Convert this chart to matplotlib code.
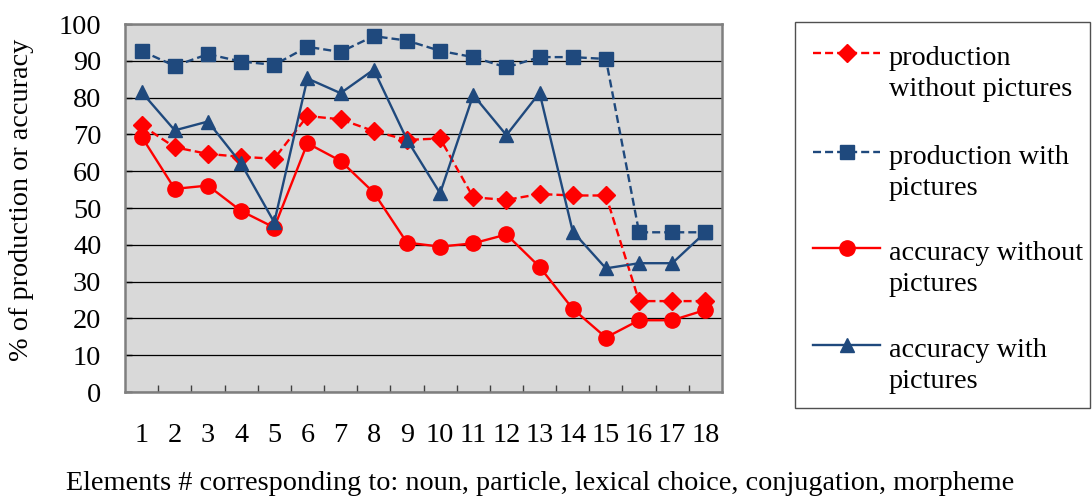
import matplotlib
matplotlib.use("Agg")
import matplotlib.pyplot as plt
from matplotlib.lines import Line2D
from matplotlib.patches import Rectangle

plt.rcParams['font.family'] = ['Liberation Serif', 'DejaVu Serif']

categories = list(range(1, 19))
prod_without = [72.5, 66.5, 64.7, 63.9, 63.4, 75.0, 74.1, 70.9, 68.5, 68.9,
                52.9, 52.2, 53.8, 53.4, 53.4, 24.7, 24.7, 24.7]
prod_with = [92.7, 88.6, 91.8, 89.8, 88.9, 93.8, 92.4, 96.7, 95.5, 92.7,
             91.0, 88.2, 91.0, 91.0, 90.5, 43.4, 43.4, 43.4]
acc_without = [69.4, 55.2, 56.1, 49.2, 44.7, 67.6, 62.8, 54.2, 40.6, 39.5,
               40.4, 42.8, 34.0, 22.6, 14.8, 19.5, 19.5, 22.3]
acc_with = [81.5, 71.1, 73.5, 62.1, 46.1, 85.2, 81.2, 87.6, 68.6, 54.0,
            80.7, 69.8, 81.3, 43.6, 33.6, 35.0, 35.0, 43.4]
labels = ["production\nwithout pictures", "production with\npictures",
          "accuracy without\npictures", "accuracy with\npictures"]
yticks = list(range(0, 101, 10))

RED = '#FF0000'
NAVY = '#1F497D'
FS = 20.3
styles = [
    dict(color=RED, ls=(0, (3.4, 1.7)), marker='D', ms=9.5),
    dict(color=NAVY, ls=(0, (3.4, 1.7)), marker='s', ms=9.5),
    dict(color=RED, ls='-', marker='o', ms=11),
    dict(color=NAVY, ls='-', marker='^', ms=10.5),
]
series = [prod_without, prod_with, acc_without, acc_with]

W, H = 1092, 499
fig = plt.figure(figsize=(W / 100, H / 100), dpi=100)
ax = fig.add_axes([125 / W, 1 - 392 / H, (722 - 125) / W, (392 - 24) / H])
ax.set_facecolor('#D9D9D9')

for vals, st in zip(series, styles):
    ax.plot(categories, vals, color=st['color'], ls=st['ls'], lw=1.7,
            marker=st['marker'], ms=st['ms'], mfc=st['color'], mec=st['color'],
            zorder=3)

ax.set_xlim(0.5, 18.5)
ax.set_ylim(0, 100)
ax.set_yticks(yticks)
ax.set_xticks(categories)
ax.set_xticks([c + 0.5 for c in categories[:-1]], minor=True)
ax.tick_params(axis='x', which='major', length=0, pad=22, labelsize=FS)
ax.tick_params(axis='x', which='minor', direction='in', length=5, width=1, color='#404040')
ax.tick_params(axis='y', direction='in', length=5, width=1, pad=17, labelsize=FS)
ax.yaxis.grid(True, color='black', lw=0.9)
ax.set_axisbelow(True)
for sp in ax.spines.values():
    sp.set_color('#7F7F7F')
    sp.set_linewidth(1.8)

fig.text(22 / W, 1 - 200 / H, '% of production or accuracy', rotation=90,
         ha='center', va='center', fontsize=FS)
fig.text(540 / W, 1 - 484 / H,
         'Elements # corresponding to: noun, particle, lexical choice, conjugation, morpheme',
         ha='center', va='center', fontsize=FS)

# legend
fig.add_artist(Rectangle((795 / W, 1 - 408 / H), (1090 - 795) / W, (408 - 22) / H,
                         transform=fig.transFigure, fill=False, ec='#505050', lw=1.0))
hy = [53, 152, 248, 345]
for y, lab, st in zip(hy, labels, styles):
    yf = 1 - y / H
    fig.add_artist(Line2D([813 / W, 880 / W], [yf, yf], transform=fig.transFigure,
                          color=st['color'], ls=st['ls'], lw=1.7))
    fig.add_artist(Line2D([847 / W], [yf], transform=fig.transFigure,
                          color=st['color'], marker=st['marker'], ms=st['ms'],
                          mfc=st['color'], mec=st['color']))
    fig.text(889 / W, 1 - (y + 43) / H, lab, ha='left', va='baseline',
             fontsize=FS, linespacing=1.32)

fig.savefig('out.png', dpi=100)
